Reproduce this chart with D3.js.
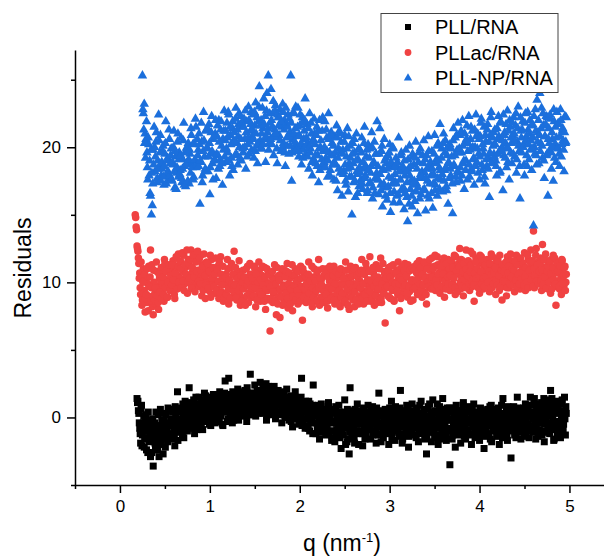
<!DOCTYPE html>
<html><head><meta charset="utf-8">
<script src="https://cdn.jsdelivr.net/npm/d3@7"></script>
<style>body{margin:0;background:#fff}svg{display:block}text{font-family:Arial,"Liberation Sans",sans-serif;fill:#000}</style>
</head><body><svg id="c" width="604" height="558"></svg>
<script>
const seriesNames = ["PLL/RNA","PLLac/RNA","PLL-NP/RNA"];
const seriesColors = ["#000000","#F04242","#1B6FDC"];
const q = [
0.17,0.18,0.19,0.20,0.21,0.22,0.23,0.24,0.25,0.26,
0.27,0.28,0.29,0.30,0.31,0.32,0.33,0.34,0.35,0.36,
0.37,0.38,0.39,0.40,0.41,0.42,0.43,0.44,0.45,0.46,
0.47,0.48,0.49,0.50,0.51,0.52,0.53,0.54,0.55,0.56,
0.57,0.58,0.59,0.60,0.61,0.62,0.63,0.64,0.65,0.66,
0.67,0.68,0.69,0.70,0.71,0.72,0.73,0.74,0.75,0.76,
0.77,0.78,0.79,0.80,0.81,0.82,0.83,0.84,0.85,0.86,
0.87,0.88,0.89,0.90,0.91,0.92,0.93,0.94,0.95,0.96,
0.97,0.98,0.99,1.00,1.01,1.02,1.03,1.04,1.05,1.06,
1.07,1.08,1.09,1.10,1.11,1.12,1.13,1.14,1.15,1.16,
1.17,1.18,1.19,1.20,1.21,1.22,1.23,1.24,1.25,1.26,
1.27,1.28,1.29,1.30,1.31,1.32,1.33,1.34,1.35,1.36,
1.37,1.38,1.39,1.40,1.41,1.42,1.43,1.44,1.45,1.46,
1.47,1.48,1.49,1.50,1.51,1.52,1.53,1.54,1.55,1.56,
1.57,1.58,1.59,1.60,1.61,1.62,1.63,1.64,1.65,1.66,
1.67,1.68,1.69,1.70,1.71,1.72,1.73,1.74,1.75,1.76,
1.77,1.78,1.79,1.80,1.81,1.82,1.83,1.84,1.85,1.86,
1.87,1.88,1.89,1.90,1.91,1.92,1.93,1.94,1.95,1.96,
1.97,1.98,1.99,2.00,2.01,2.02,2.03,2.04,2.05,2.06,
2.07,2.08,2.09,2.10,2.11,2.12,2.13,2.14,2.15,2.16,
2.17,2.18,2.19,2.20,2.21,2.22,2.23,2.24,2.25,2.26,
2.27,2.28,2.29,2.30,2.31,2.32,2.33,2.34,2.35,2.36,
2.37,2.38,2.39,2.40,2.41,2.42,2.43,2.44,2.45,2.46,
2.47,2.48,2.49,2.50,2.51,2.52,2.53,2.54,2.55,2.56,
2.57,2.58,2.59,2.60,2.61,2.62,2.63,2.64,2.65,2.66,
2.67,2.68,2.69,2.70,2.71,2.72,2.73,2.74,2.75,2.76,
2.77,2.78,2.79,2.80,2.81,2.82,2.83,2.84,2.85,2.86,
2.87,2.88,2.89,2.90,2.91,2.92,2.93,2.94,2.95,2.96,
2.97,2.98,2.99,3.00,3.01,3.02,3.03,3.04,3.05,3.06,
3.07,3.08,3.09,3.10,3.11,3.12,3.13,3.14,3.15,3.16,
3.17,3.18,3.19,3.20,3.21,3.22,3.23,3.24,3.25,3.26,
3.27,3.28,3.29,3.30,3.31,3.32,3.33,3.34,3.35,3.36,
3.37,3.38,3.39,3.40,3.41,3.42,3.43,3.44,3.45,3.46,
3.47,3.48,3.49,3.50,3.51,3.52,3.53,3.54,3.55,3.56,
3.57,3.58,3.59,3.60,3.61,3.62,3.63,3.64,3.65,3.66,
3.67,3.68,3.69,3.70,3.71,3.72,3.73,3.74,3.75,3.76,
3.77,3.78,3.79,3.80,3.81,3.82,3.83,3.84,3.85,3.86,
3.87,3.88,3.89,3.90,3.91,3.92,3.93,3.94,3.95,3.96,
3.97,3.98,3.99,4.00,4.01,4.02,4.03,4.04,4.05,4.06,
4.07,4.08,4.09,4.10,4.11,4.12,4.13,4.14,4.15,4.16,
4.17,4.18,4.19,4.20,4.21,4.22,4.23,4.24,4.25,4.26,
4.27,4.28,4.29,4.30,4.31,4.32,4.33,4.34,4.35,4.36,
4.37,4.38,4.39,4.40,4.41,4.42,4.43,4.44,4.45,4.46,
4.47,4.48,4.49,4.50,4.51,4.52,4.53,4.54,4.55,4.56,
4.57,4.58,4.59,4.60,4.61,4.62,4.63,4.64,4.65,4.66,
4.67,4.68,4.69,4.70,4.71,4.72,4.73,4.74,4.75,4.76,
4.77,4.78,4.79,4.80,4.81,4.82,4.83,4.84,4.85,4.86,
4.87,4.88,4.89,4.90,4.91,4.92,4.93,4.94,4.95,4.96];
const qMid = [
0.175,0.185,0.195,0.205,0.215,0.225,0.235,0.245,0.255,0.265,
0.275,0.285,0.295,0.305,0.315,0.325,0.335,0.345,0.355,0.365,
0.375,0.385,0.395,0.405,0.415,0.425,0.435,0.445,0.455,0.465,
0.475,0.485,0.495,0.505,0.515,0.525,0.535,0.545,0.555,0.565,
0.575,0.585,0.595,0.605,0.615,0.625,0.635,0.645,0.655,0.665,
0.675,0.685,0.695,0.705,0.715,0.725,0.735,0.745,0.755,0.765,
0.775,0.785,0.795,0.805,0.815,0.825,0.835,0.845,0.855,0.865,
0.875,0.885,0.895,0.905,0.915,0.925,0.935,0.945,0.955,0.965,
0.975,0.985,0.995,1.005,1.015,1.025,1.035,1.045,1.055,1.065,
1.075,1.085,1.095,1.105,1.115,1.125,1.135,1.145,1.155,1.165,
1.175,1.185,1.195,1.205,1.215,1.225,1.235,1.245,1.255,1.265,
1.275,1.285,1.295,1.305,1.315,1.325,1.335,1.345,1.355,1.365,
1.375,1.385,1.395,1.405,1.415,1.425,1.435,1.445,1.455,1.465,
1.475,1.485,1.495,1.505,1.515,1.525,1.535,1.545,1.555,1.565,
1.575,1.585,1.595,1.605,1.615,1.625,1.635,1.645,1.655,1.665,
1.675,1.685,1.695,1.705,1.715,1.725,1.735,1.745,1.755,1.765,
1.775,1.785,1.795,1.805,1.815,1.825,1.835,1.845,1.855,1.865,
1.875,1.885,1.895,1.905,1.915,1.925,1.935,1.945,1.955,1.965,
1.975,1.985,1.995,2.005,2.015,2.025,2.035,2.045,2.055,2.065,
2.075,2.085,2.095,2.105,2.115,2.125,2.135,2.145,2.155,2.165,
2.175,2.185,2.195,2.205,2.215,2.225,2.235,2.245,2.255,2.265,
2.275,2.285,2.295,2.305,2.315,2.325,2.335,2.345,2.355,2.365,
2.375,2.385,2.395,2.405,2.415,2.425,2.435,2.445,2.455,2.465,
2.475,2.485,2.495,2.505,2.515,2.525,2.535,2.545,2.555,2.565,
2.575,2.585,2.595,2.605,2.615,2.625,2.635,2.645,2.655,2.665,
2.675,2.685,2.695,2.705,2.715,2.725,2.735,2.745,2.755,2.765,
2.775,2.785,2.795,2.805,2.815,2.825,2.835,2.845,2.855,2.865,
2.875,2.885,2.895,2.905,2.915,2.925,2.935,2.945,2.955,2.965,
2.975,2.985,2.995,3.005,3.015,3.025,3.035,3.045,3.055,3.065,
3.075,3.085,3.095,3.105,3.115,3.125,3.135,3.145,3.155,3.165,
3.175,3.185,3.195,3.205,3.215,3.225,3.235,3.245,3.255,3.265,
3.275,3.285,3.295,3.305,3.315,3.325,3.335,3.345,3.355,3.365,
3.375,3.385,3.395,3.405,3.415,3.425,3.435,3.445,3.455,3.465,
3.475,3.485,3.495,3.505,3.515,3.525,3.535,3.545,3.555,3.565,
3.575,3.585,3.595,3.605,3.615,3.625,3.635,3.645,3.655,3.665,
3.675,3.685,3.695,3.705,3.715,3.725,3.735,3.745,3.755,3.765,
3.775,3.785,3.795,3.805,3.815,3.825,3.835,3.845,3.855,3.865,
3.875,3.885,3.895,3.905,3.915,3.925,3.935,3.945,3.955,3.965,
3.975,3.985,3.995,4.005,4.015,4.025,4.035,4.045,4.055,4.065,
4.075,4.085,4.095,4.105,4.115,4.125,4.135,4.145,4.155,4.165,
4.175,4.185,4.195,4.205,4.215,4.225,4.235,4.245,4.255,4.265,
4.275,4.285,4.295,4.305,4.315,4.325,4.335,4.345,4.355,4.365,
4.375,4.385,4.395,4.405,4.415,4.425,4.435,4.445,4.455,4.465,
4.475,4.485,4.495,4.505,4.515,4.525,4.535,4.545,4.555,4.565,
4.575,4.585,4.595,4.605,4.615,4.625,4.635,4.645,4.655,4.665,
4.675,4.685,4.695,4.705,4.715,4.725,4.735,4.745,4.755,4.765,
4.775,4.785,4.795,4.805,4.815,4.825,4.835,4.845,4.855,4.865,
4.875,4.885,4.895,4.905,4.915,4.925,4.935,4.945,4.955,4.965];
const pllRNA = [
null,null,1.4,1.2,0.3,-0.8,-1.9,0.9,-1.3,-0.4,
-2.2,-0.9,0.2,-1.6,-2.6,-0.5,-1.1,-2.9,-0.2,-1.4,
-3.6,-0.8,-1.9,0.4,-1.2,-2.4,-0.6,-1.5,0.6,-2.0,
-0.9,-2.7,-0.3,-1.4,0.2,-1.0,-1.8,-0.5,0.5,-1.3,
-0.2,-1.6,0.6,-0.8,-2.1,0.1,-0.6,1.9,-1.1,-0.3,
0.4,-0.9,-0.1,1.0,-1.5,0.3,-0.4,0.8,-1.0,0.2,
2.2,-0.3,0.9,-0.8,0.5,1.3,-1.2,0.1,0.7,-0.5,
0.3,1.5,-0.4,0.8,1.1,-0.9,0.6,1.8,0.0,0.4,
1.0,-0.2,0.7,1.4,-0.6,0.9,0.2,1.7,0.5,-0.4,
0.8,1.3,-0.3,0.6,1.9,0.1,1.0,-0.5,0.7,1.5,
2.7,0.4,1.2,-0.1,2.9,0.9,0.3,1.6,-0.4,1.1,
0.6,1.8,0.2,1.3,2.1,-0.2,1.0,0.5,1.7,0.8,
1.4,0.3,2.0,0.9,-0.3,1.6,0.7,1.2,3.2,0.5,
1.8,0.6,1.3,2.4,0.1,1.0,1.9,0.4,1.5,2.6,
0.7,1.6,2.2,0.3,1.2,1.8,-0.2,1.0,2.3,0.8,
1.5,0.2,2.1,1.1,0.6,1.7,-0.1,1.3,0.9,2.0,
0.4,1.4,0.9,-0.4,1.8,0.6,1.1,0.0,1.5,0.7,
1.2,-0.2,0.8,1.6,0.3,-0.7,1.0,0.5,1.9,0.1,
0.6,1.3,-0.5,0.9,0.2,2.9,-0.3,1.1,0.4,-0.8,
0.8,-0.6,0.3,1.2,-1.0,0.5,-0.2,0.9,2.4,-0.4,
0.2,-1.2,0.7,-0.5,0.4,-1.6,0.0,1.0,-0.8,0.3,
-0.6,0.5,-1.3,0.1,-0.3,1.1,-1.0,-0.2,0.6,-1.5,
-0.4,0.3,-1.8,0.8,-0.9,-0.1,-1.4,0.4,-0.7,-2.3,
-1.1,0.2,-0.5,1.3,-2.0,-0.3,0.6,-1.6,-2.7,2.2,
-0.2,-1.3,0.5,-0.8,-1.9,0.1,-0.5,1.0,-1.2,-0.4,
0.3,-1.0,-0.3,-2.1,0.7,-0.6,0.2,-1.4,-0.1,0.9,
-0.8,0.4,-1.6,-0.2,0.8,-1.1,-0.5,0.3,-1.9,0.0,
-0.4,1.8,-1.2,0.5,-0.7,0.1,-1.5,-0.2,0.6,-1.0,
0.2,-0.6,-2.0,0.7,-0.3,1.2,-1.1,-0.5,0.4,-1.7,
-0.2,0.6,-0.9,0.1,-1.4,2.0,-0.4,-1.9,0.3,-0.7,
-1.2,0.0,0.9,-0.6,-2.2,0.4,-0.3,-1.0,1.0,-0.5,
0.2,-1.3,-0.1,0.7,-0.8,-1.8,0.3,-0.4,1.2,-1.0,
-0.5,0.5,-1.6,0.1,-2.7,-0.3,0.8,-1.1,-0.2,0.4,
-0.9,1.3,-0.4,-1.5,0.3,-0.7,1.0,-2.0,0.0,-0.5,
0.5,-1.2,1.4,-0.3,-0.8,0.2,-1.7,0.7,-0.1,-1.0,
-3.5,-0.2,0.6,-1.3,-0.6,0.3,-2.2,0.9,-0.4,-1.1,
0.1,-0.7,-1.9,0.5,-0.2,1.1,-1.4,-0.5,0.4,-0.9,
-0.3,0.8,-1.2,-0.1,-2.0,0.6,-0.6,0.2,-1.5,0.3,
-0.8,0.4,-0.3,-1.7,0.7,-1.0,0.1,-0.5,-2.3,0.5,
-0.1,-1.2,0.6,-0.6,0.2,-1.6,0.9,-0.3,-1.0,0.3,
-0.7,0.4,-1.4,-0.2,0.7,-2.0,-0.4,0.1,-0.9,1.4,
0.3,-1.1,-0.3,0.6,-1.7,-0.6,0.2,-0.9,-3.0,0.5,
-0.4,0.8,-1.3,0.0,-0.7,1.5,-1.0,0.3,-0.2,-1.6,
0.2,-0.5,0.7,-1.2,1.0,-0.3,-0.8,0.5,-1.5,0.1,
-0.6,0.9,-0.1,-1.1,1.4,0.3,-0.7,0.6,-1.4,0.0,
0.7,-0.4,1.1,-1.0,0.2,-1.8,0.8,-0.2,1.3,-0.6,
0.4,-1.2,2.0,0.1,-0.5,0.9,-1.6,0.3,1.2,-0.8,
0.6,-0.3,1.0,-1.5,0.2,1.3,-0.9,0.5,-0.1,0.8];
const pllRNAMid = [
null,null,1.1,0.5,-0.4,-1.2,0.6,-2.1,-0.7,0.1,
-1.5,-0.3,-2.4,-1.0,0.4,-1.8,-0.6,-1.3,-2.6,-0.1,
-1.7,-0.4,-2.2,-0.9,-1.4,0.2,-2.9,-0.7,-1.1,-0.2,
-1.6,0.3,-0.8,-2.2,-0.4,-1.1,0.7,-1.5,-0.6,-0.1,
-1.2,0.4,-0.5,-1.4,0.8,-0.9,-0.2,-1.7,0.5,-0.7,
-0.3,0.7,-1.2,0.1,-0.6,1.2,-0.2,-0.9,0.5,-0.4,
0.6,-0.7,1.1,0.2,-0.4,0.9,-0.1,1.5,-0.9,0.4,
1.0,-0.1,0.5,-0.6,1.3,0.2,-0.3,0.9,1.6,-0.2,
0.3,1.2,-0.5,0.8,0.1,1.5,-0.1,0.6,1.1,0.0,
1.1,0.2,1.6,-0.2,0.9,0.4,1.3,-0.6,0.5,1.8,
0.5,1.4,-0.3,0.8,1.7,0.2,1.1,0.6,1.9,-0.2,
1.2,0.4,1.5,0.9,-0.1,1.9,0.6,1.1,0.2,1.4,
0.8,1.7,0.1,1.3,2.2,0.5,1.0,1.8,0.2,1.2,
1.4,0.2,1.1,1.7,0.7,2.0,0.3,1.2,0.8,1.6,
1.3,2.0,0.5,1.5,0.9,2.5,0.2,1.4,0.6,1.9,
0.9,1.8,0.4,1.2,2.3,0.7,1.5,0.3,1.0,1.6,
1.2,0.2,1.6,0.8,0.4,1.9,0.1,1.0,2.1,0.5,
0.9,0.3,1.4,-0.3,0.7,1.1,0.2,1.5,-0.1,0.6,
0.2,1.0,-0.2,0.7,1.5,-0.6,0.4,0.9,-0.1,1.2,
-0.1,0.6,-0.8,0.3,1.0,-0.3,0.7,-1.2,0.1,0.5,
-0.4,0.5,-0.9,0.9,-0.2,0.3,-1.1,0.6,-0.5,0.0,
0.3,-0.9,0.0,-0.6,0.8,-1.2,0.2,-0.4,-1.7,0.4,
-1.0,0.5,-0.3,-1.2,0.2,-0.6,0.9,-1.5,-0.2,0.1,
-0.4,-1.3,0.4,-0.8,-0.1,-1.8,0.3,-0.6,-1.1,0.0,
-0.9,0.3,-0.6,-1.5,0.6,-0.2,-1.0,0.2,-2.0,-0.3,
-0.5,0.5,-1.2,0.1,-0.8,-1.6,0.4,-0.3,-0.9,0.2,
0.1,-0.9,0.6,-0.5,-1.3,0.3,-0.2,-1.0,0.7,-0.6,
-1.3,0.2,-0.5,-1.8,0.4,-0.9,0.0,-0.3,-1.2,0.5,
-0.7,0.3,-1.1,-0.2,0.6,-1.5,0.1,-0.8,-0.1,0.8,
-1.0,0.2,-0.5,-1.2,0.7,-0.3,0.4,-1.6,-0.1,0.5,
0.3,-0.8,-0.2,0.6,-1.4,-0.5,0.2,-1.1,-0.3,0.5,
-0.6,0.1,-1.5,0.4,-0.2,-0.9,0.9,-1.2,0.0,-0.7,
0.3,-1.0,-0.3,0.6,-1.4,0.0,-0.6,1.0,-0.9,-1.8,
0.2,-0.6,-1.1,0.5,-0.2,-1.3,0.4,-0.8,0.8,-1.6,
-0.4,0.1,-1.0,0.6,-0.5,-1.4,0.3,-0.2,-0.9,0.7,
-0.8,0.4,-1.6,-0.1,0.7,-1.0,-0.3,0.2,-1.3,0.5,
-0.5,0.3,-1.1,-0.4,0.9,-0.8,0.0,-1.6,0.4,-0.2,
-1.0,0.5,-0.4,-1.3,0.2,-0.7,1.0,-0.2,-1.1,0.1,
0.3,-0.6,-1.2,0.6,-0.1,-0.9,0.4,-1.4,0.0,-0.4,
-0.9,0.4,-0.2,-1.3,0.8,-0.5,-1.8,0.2,-0.4,0.6,
0.1,-1.0,0.5,-0.6,-1.2,0.3,-0.3,0.9,-1.5,-0.1,
-0.8,0.2,-0.4,-1.4,0.8,-0.2,-1.0,0.4,-0.5,0.1,
0.5,-0.9,0.2,-1.5,-0.3,0.7,-0.6,-1.1,0.4,-0.1,
-0.9,0.6,-0.3,0.1,-1.4,0.9,-0.5,0.3,-1.0,1.5,
0.4,-1.0,0.2,1.1,-0.4,-1.6,0.7,-0.2,1.0,-0.9,
-0.2,0.5,-1.3,0.3,1.4,-0.5,0.0,-1.1,0.6,1.2,
-0.4,0.8,-0.9,1.4,0.0,-1.7,0.6,-0.3,1.0,-1.2,
0.9,-0.6,0.4,-1.1,1.2,0.0,-0.5,1.5,-1.3,0.3];
const pllacRNA = [
15.0,14.1,12.7,12.3,11.4,10.7,9.1,10.4,8.7,11.0,
9.4,7.8,10.2,8.5,9.9,11.2,8.9,12.4,9.6,8.2,
7.6,10.0,9.2,8.4,10.8,9.5,8.0,10.3,9.8,11.1,
9.3,10.6,8.6,11.4,9.9,10.2,8.9,11.0,9.6,10.7,
10.9,9.4,11.6,10.1,8.8,11.2,9.8,10.5,12.1,9.6,
10.3,11.5,9.7,10.8,12.0,9.9,11.1,10.4,9.2,11.7,
11.3,10.0,12.4,10.7,9.5,11.8,10.2,12.2,9.8,10.9,
11.6,9.7,10.5,12.0,9.0,11.0,10.3,11.4,8.8,10.8,
10.1,11.3,9.4,10.6,8.9,11.7,9.9,10.4,11.0,9.2,
10.7,9.5,11.2,8.8,10.0,11.9,9.3,10.5,8.6,10.2,
9.0,10.6,9.8,11.0,8.4,10.1,9.5,11.4,8.9,9.7,
12.3,9.2,10.4,8.7,9.9,10.8,9.1,8.3,10.2,9.6,
10.9,8.8,9.7,10.3,9.0,11.2,8.5,9.9,10.6,9.3,
8.9,10.1,9.5,11.0,8.2,9.8,10.4,9.1,10.9,8.6,
9.7,10.5,8.9,9.3,11.1,8.0,10.0,9.4,10.7,8.7,
6.4,9.9,10.4,8.5,9.2,11.3,9.6,7.6,10.1,8.9,
9.4,7.4,10.6,9.0,8.3,9.8,10.9,8.7,9.5,11.4,
8.1,9.7,10.3,8.8,9.2,7.9,10.5,9.0,11.0,8.6,
9.9,8.4,10.2,9.3,11.2,8.8,7.2,9.6,10.7,9.1,
8.5,10.0,9.4,11.5,8.9,9.7,10.4,8.2,9.8,11.0,
9.2,8.6,10.6,9.5,11.7,8.3,9.9,10.2,8.8,9.4,
10.5,8.9,9.6,11.0,8.1,9.3,10.1,8.7,9.8,10.8,
9.0,11.2,8.4,9.7,10.3,8.8,9.5,10.9,8.2,9.9,
10.6,9.1,8.5,10.0,11.5,8.9,9.4,10.4,8.0,9.7,
9.3,10.8,8.7,9.9,8.2,11.1,9.6,8.5,10.3,9.0,
10.1,8.8,11.7,9.4,8.4,10.6,9.2,11.0,8.9,9.8,
9.5,11.9,8.6,10.2,9.1,10.7,8.3,9.9,11.3,9.4,
10.4,8.9,9.7,11.8,8.5,10.0,9.3,10.8,7.0,9.6,
10.2,9.0,11.1,9.7,8.8,10.5,9.4,11.3,8.6,10.0,
9.5,10.9,9.1,10.3,7.9,11.0,9.8,10.6,9.2,10.1,
11.4,9.6,10.4,8.9,10.8,9.3,11.1,9.9,10.2,8.7,
10.0,11.2,9.5,10.7,9.1,10.3,11.6,9.8,10.5,8.9,
10.6,9.3,11.0,9.9,8.4,10.4,11.3,9.6,10.9,10.1,
11.8,9.7,10.5,11.2,9.4,10.0,11.9,9.9,10.7,9.2,
10.3,11.5,9.6,10.9,8.9,11.1,10.2,9.8,11.7,10.6,
9.4,10.8,11.4,9.9,10.3,12.0,9.1,10.6,11.2,9.7,
10.9,12.5,9.5,10.4,11.6,9.0,10.7,11.1,12.4,9.8,
10.2,11.3,9.4,12.3,10.6,9.7,11.0,8.6,10.5,11.8,
9.9,10.7,11.4,9.2,10.3,11.9,10.0,9.5,11.2,10.8,
11.5,9.8,10.4,11.1,9.3,10.9,12.1,9.6,10.2,11.3,
10.6,9.1,11.7,10.0,10.8,9.4,11.2,10.3,8.7,11.0,
9.7,11.4,10.5,9.0,11.9,10.2,9.6,10.9,11.6,9.9,
10.4,11.1,9.3,10.7,12.0,9.8,10.3,11.5,9.5,10.8,
11.3,9.9,10.6,12.2,9.4,11.0,10.1,11.7,9.7,10.5,
12.4,10.0,11.2,13.8,9.6,10.9,12.5,10.3,11.5,9.9,
10.6,11.8,9.4,12.8,10.2,11.1,9.8,10.7,11.6,9.5,
11.0,10.3,9.2,11.7,10.5,12.0,9.7,10.8,8.3,11.3,
10.1,11.5,9.5,10.9,9.1,11.6,10.4,9.8,11.2,10.0];
const pllacRNAMid = [
14.8,13.9,12.5,11.8,10.3,9.6,11.5,8.3,10.0,9.2,
10.6,8.8,9.1,11.0,7.9,9.7,10.4,8.6,11.3,9.0,
10.9,8.7,9.6,11.5,9.0,8.5,10.6,9.3,10.1,8.8,
10.4,9.1,11.7,9.6,10.8,8.9,10.0,11.3,9.4,10.5,
9.8,11.3,10.2,9.1,10.7,11.9,9.5,11.1,10.0,11.6,
11.0,9.6,12.2,10.1,9.4,11.3,10.6,12.4,10.0,11.4,
10.3,11.7,9.6,11.1,12.0,10.4,9.3,11.5,10.8,12.3,
10.1,11.8,9.9,10.9,11.2,9.4,12.1,10.5,9.8,11.5,
11.4,9.6,10.8,12.0,9.1,10.3,11.1,9.7,10.6,11.8,
9.4,10.9,10.1,11.5,9.2,10.6,9.8,11.2,10.3,8.9,
10.4,9.1,11.7,9.5,10.2,8.8,11.1,9.9,10.6,9.3,
9.8,11.1,8.9,10.3,9.4,11.6,9.7,10.5,8.6,10.0,
9.5,10.4,8.3,11.0,9.8,10.1,9.2,11.4,9.6,8.9,
10.3,9.0,11.2,9.6,10.6,8.7,10.0,11.5,9.3,10.2,
9.1,11.2,9.8,8.6,10.4,9.5,11.0,8.8,9.9,10.6,
9.7,8.8,10.8,9.3,10.2,8.6,9.9,11.1,8.4,10.5,
10.2,9.5,8.9,11.0,9.7,8.5,10.4,9.2,10.8,8.8,
9.9,10.7,8.4,9.5,11.3,9.0,9.8,10.5,8.7,10.1,
9.4,10.8,9.0,8.6,10.3,9.7,11.0,8.9,9.5,10.4,
9.9,8.7,10.6,9.2,10.1,8.5,11.2,9.6,8.9,10.3,
10.1,9.4,8.7,10.9,9.6,10.3,8.9,9.8,11.0,8.5,
9.3,10.7,9.1,8.6,10.4,9.7,11.2,8.8,9.5,10.1,
10.5,8.7,9.9,10.8,9.2,8.4,10.6,9.4,11.0,8.9,
9.2,10.3,9.8,8.6,10.9,9.5,8.3,10.2,9.9,11.2,
10.4,8.9,9.6,11.0,9.3,8.7,10.5,9.8,8.4,10.7,
9.6,10.9,8.8,9.9,10.6,9.1,11.4,8.6,10.2,9.4,
10.8,9.3,10.1,8.7,11.1,9.7,10.4,9.0,10.0,8.5,
9.5,11.0,10.2,8.8,9.9,11.4,9.2,10.6,9.6,10.3,
9.7,10.9,8.9,10.4,11.2,9.5,10.0,8.7,10.7,9.9,
10.7,9.4,11.5,9.9,10.4,8.8,10.2,11.2,9.6,10.9,
9.8,10.5,9.2,11.3,9.7,10.9,8.6,10.1,11.0,9.5,
10.9,9.6,10.2,11.4,9.2,10.8,9.9,11.1,9.4,10.6,
9.8,11.5,10.3,9.1,11.0,10.0,9.7,11.7,10.4,9.5,
10.4,11.0,9.6,12.0,10.2,9.8,11.3,10.6,9.4,11.1,
11.2,9.7,10.6,11.8,10.1,9.5,11.4,10.4,9.9,11.0,
10.5,11.6,9.8,11.1,10.3,9.6,11.9,10.9,9.3,11.4,
11.2,10.0,11.7,9.7,10.8,11.4,10.2,9.6,11.0,10.5,
11.6,9.9,10.8,11.3,10.1,12.1,9.8,10.7,11.5,10.3,
11.0,9.6,10.5,12.0,10.8,9.9,11.6,10.3,9.7,11.3,
10.4,11.7,10.0,10.8,11.4,9.6,10.6,11.9,9.9,10.7,
11.1,10.2,9.8,11.6,10.5,12.0,9.7,10.9,11.3,10.1,
10.8,10.0,11.5,9.6,10.7,11.2,9.9,12.1,10.4,11.0,
9.8,10.9,11.6,10.2,9.7,11.3,10.6,9.9,11.8,10.3,
10.7,11.4,9.8,10.4,11.1,10.0,12.0,9.6,10.9,11.5,
10.2,11.6,9.7,11.0,10.5,12.0,10.1,11.3,9.9,10.8,
11.4,10.1,10.9,9.8,11.7,10.4,12.1,9.6,10.8,11.2,
10.0,11.5,10.6,9.5,11.1,10.2,11.8,9.9,10.7,11.4,
10.8,9.7,11.2,10.3,11.7,9.9,10.5,11.1,9.4,10.6];
const pllnpRNA = [
null,null,null,null,null,null,null,null,25.3,22.5,
23.2,21.0,20.6,19.6,17.6,20.2,19.0,16.4,15.0,15.7,
19.8,21.5,18.2,20.4,17.4,19.0,22.4,18.6,20.9,17.9,
18.4,20.1,17.2,19.5,21.9,18.0,19.2,17.6,20.6,18.8,
19.9,17.5,18.7,21.2,17.0,19.3,18.1,20.4,17.8,19.6,
18.3,20.7,17.4,19.1,21.8,18.6,17.1,19.9,18.9,20.3,
17.3,19.5,21.4,18.8,20.2,17.8,19.0,22.1,18.5,20.6,
19.8,21.0,15.8,18.9,20.4,17.9,22.6,19.3,18.4,21.3,
20.0,18.2,21.7,16.5,19.5,22.3,18.8,20.6,19.1,21.0,
17.7,20.8,19.4,22.0,18.6,21.3,20.1,17.2,19.8,22.7,
20.5,18.9,21.8,19.6,22.4,17.9,20.9,19.2,21.4,18.3,
21.1,19.4,22.9,20.3,18.7,21.7,20.0,22.3,19.0,21.5,
19.6,22.1,20.6,18.4,21.9,20.2,23.0,19.5,21.2,22.6,
20.8,22.4,19.2,21.6,23.3,20.1,18.8,21.9,24.5,20.5,
22.0,19.9,21.4,23.6,20.6,18.9,22.7,21.1,25.3,20.3,
21.8,24.3,20.2,22.5,19.4,21.3,23.1,20.7,18.8,22.2,
20.9,22.8,19.7,21.5,23.2,20.3,22.0,18.6,21.7,20.1,
22.4,19.5,21.1,25.3,17.5,20.6,22.6,19.9,21.4,20.2,
20.8,22.9,19.3,21.6,20.0,18.7,22.2,19.8,21.2,23.6,
19.5,21.7,20.3,18.4,22.5,19.9,21.0,17.9,20.6,22.1,
20.2,18.8,21.5,19.4,17.4,22.0,20.0,18.5,21.2,19.7,
18.9,21.9,19.2,20.7,17.8,22.5,19.6,18.3,21.1,20.3,
19.4,17.6,20.8,18.7,21.6,16.8,19.9,21.2,18.1,20.4,
16.4,19.8,18.2,20.9,17.5,19.3,21.4,16.7,18.8,20.1,
18.5,15.0,20.3,17.4,19.6,16.3,21.0,18.0,19.1,17.1,
19.8,17.6,20.7,16.9,18.4,21.5,17.9,19.3,16.6,20.2,
17.3,19.9,18.1,21.1,16.2,18.8,20.4,17.7,19.5,21.9,
18.6,16.5,21.4,17.2,19.7,15.6,18.3,20.6,17.0,19.2,
16.1,19.4,17.8,20.2,15.2,18.6,17.3,19.9,16.7,18.0,
19.2,16.4,18.5,20.7,15.9,17.6,19.6,16.8,18.2,15.4,
17.9,19.8,16.3,14.5,18.4,20.1,16.9,17.5,15.6,19.3,
18.7,16.0,20.4,17.3,15.1,18.9,17.7,19.9,16.5,18.2,
16.8,20.5,18.1,15.3,19.4,17.5,20.8,16.2,18.6,17.9,
19.7,15.5,18.0,20.9,17.2,19.1,16.4,20.3,18.5,21.7,
17.6,19.9,16.7,21.0,18.3,20.5,17.1,19.4,15.8,18.8,
20.2,17.9,19.3,15.1,21.4,18.6,20.7,17.4,19.8,21.8,
18.1,20.9,17.5,19.6,22.0,18.8,16.9,20.3,19.0,21.6,
19.7,22.3,17.8,20.6,18.4,21.2,19.1,17.2,20.0,22.4,
18.9,21.0,19.5,17.6,20.8,22.1,18.3,19.9,21.5,17.3,
20.4,18.6,21.7,19.2,16.3,20.9,22.6,18.9,20.1,19.5,
21.3,19.0,17.9,20.6,22.3,19.7,18.2,21.8,20.0,16.8,
19.4,21.1,20.3,18.5,22.7,19.9,17.6,21.5,20.7,18.8,
20.9,22.2,19.3,21.6,18.1,20.4,23.0,19.7,16.2,21.2,
19.6,21.9,20.2,17.9,22.5,20.8,18.6,21.3,19.1,22.0,
20.5,18.3,21.7,14.2,20.0,22.8,19.4,23.5,21.1,18.8,
24.0,20.3,22.9,19.2,21.6,17.7,20.8,22.3,19.5,16.4,
21.4,19.8,22.1,18.4,20.6,17.5,21.9,20.2,18.9,22.6,
20.0,21.7,18.6,22.8,19.3,21.2,20.5,18.2,22.3,20.4];
const pllnpRNAMid = [
null,null,null,null,null,null,null,null,22.8,21.3,
20.3,19.2,21.9,18.5,20.7,17.9,16.6,19.8,18.1,17.3,
18.7,20.0,19.3,21.1,17.7,18.4,20.5,19.6,17.5,18.9,
19.7,17.8,18.6,20.3,17.3,19.0,18.2,21.3,17.9,19.4,
17.6,18.9,20.0,18.2,19.7,16.9,18.5,21.0,19.1,18.0,
19.4,17.7,18.4,20.5,17.2,19.6,18.7,20.0,17.5,19.1,
19.8,18.1,20.9,18.5,17.6,20.3,19.1,21.5,18.7,19.4,
18.6,20.2,19.0,21.8,17.4,19.7,20.5,18.2,21.2,19.9,
21.4,19.3,20.3,18.5,21.1,19.7,17.6,20.8,19.0,22.0,
19.5,21.6,18.4,20.4,19.1,21.9,18.8,20.6,21.2,19.3,
21.2,19.9,20.7,22.6,19.0,21.5,20.2,18.6,21.9,20.5,
20.4,22.1,19.5,21.3,20.8,22.5,19.2,20.6,21.8,19.9,
21.5,20.0,22.7,21.1,19.3,20.7,22.0,20.4,21.7,19.8,
21.3,20.6,22.6,19.7,21.0,22.2,20.3,23.0,21.6,19.9,
21.0,22.9,20.2,21.7,22.3,20.8,24.0,21.4,19.8,22.5,
20.6,22.0,21.5,23.4,20.9,22.7,21.0,19.9,22.4,21.6,
22.2,20.5,21.9,20.0,22.6,21.3,19.6,22.9,20.7,21.5,
20.8,22.1,20.1,21.8,19.6,22.5,21.0,20.4,23.0,19.8,
21.5,19.7,20.9,22.4,20.3,21.8,19.2,20.6,22.0,20.1,
20.7,19.3,21.4,20.0,19.6,21.8,18.9,20.4,19.1,21.0,
19.4,20.9,18.6,21.2,19.9,18.3,20.5,19.1,22.2,18.8,
20.0,18.5,21.3,19.7,19.0,20.6,17.9,19.4,20.9,18.7,
20.1,18.9,19.6,17.5,20.7,19.2,18.4,21.0,19.7,18.2,
19.5,18.0,20.4,18.7,17.2,19.9,18.4,20.8,17.8,19.2,
17.8,19.5,18.8,20.6,17.5,19.0,18.2,16.6,19.9,18.5,
18.1,19.6,17.3,18.9,20.3,17.7,18.6,19.8,16.8,18.3,
19.2,17.4,18.6,20.0,17.0,18.9,16.6,19.5,18.1,17.6,
17.6,19.5,18.0,16.8,20.1,18.4,17.3,19.0,16.4,18.8,
18.4,17.1,19.6,16.6,18.9,17.7,20.0,15.9,18.5,17.4,
17.3,18.9,16.5,18.2,17.6,19.4,16.9,18.6,17.0,19.0,
16.6,18.2,17.4,19.1,15.8,17.9,18.6,16.4,19.5,17.2,
17.5,19.2,16.7,18.4,17.0,19.6,16.2,18.0,17.8,19.4,
18.8,16.9,19.1,17.7,18.4,16.4,19.7,17.3,18.9,16.6,
18.4,17.3,19.5,16.8,18.8,20.1,17.7,19.0,16.9,18.3,
19.2,18.0,20.3,17.5,19.6,18.5,16.8,20.0,18.9,17.7,
18.4,19.9,17.3,20.5,18.7,19.4,17.8,20.9,18.2,19.6,
19.9,18.5,21.2,17.9,20.1,19.0,21.0,18.3,20.6,17.6,
20.3,18.7,19.8,21.5,18.2,20.0,19.2,21.3,18.6,20.8,
19.9,18.1,20.6,19.3,21.8,18.7,20.2,19.5,17.8,20.9,
19.1,21.3,18.4,20.4,19.6,22.2,18.8,20.7,21.1,19.3,
20.2,18.6,21.4,19.5,20.8,18.1,21.9,19.8,20.5,22.4,
20.9,19.2,21.7,20.0,18.9,21.2,22.0,19.6,20.3,21.8,
19.5,21.0,20.4,22.5,19.1,21.4,20.1,18.6,22.2,20.7,
21.3,20.0,18.7,21.8,20.5,19.4,22.6,20.2,21.0,19.8,
21.6,19.9,20.7,22.3,19.5,21.2,18.7,20.4,22.0,20.9,
19.7,21.4,20.1,22.5,19.0,20.8,21.7,19.4,22.2,20.6,
20.3,22.4,19.6,21.1,20.0,22.8,19.2,21.5,20.7,19.9,
21.8,19.5,20.8,22.0,20.2,21.4,19.8,21.1,20.3,22.2];
const xTicks = [0,1,2,3,4,5];
const xMinorTicks = [-0.5,0.5,1.5,2.5,3.5,4.5,5.5];
const yTicks = [0,10,20];
const yMinorTicks = [-5,5,15,25];

const svg = d3.select("#c");
const x = d3.scaleLinear().domain([-0.5,5.5]).range([75,614.4]);
const y = d3.scaleLinear().domain([-5,27.2]).range([485,50]);

// points
const seriesData = [[pllRNA, pllRNAMid], [pllacRNA, pllacRNAMid], [pllnpRNA, pllnpRNAMid]];
const shapes = [d3.symbolSquare, d3.symbolCircle, d3.symbolTriangle];
const sizes = [49, 44, 40];
seriesData.forEach((pair, si) => {
  const pts = q.map((qq, i) => [qq, pair[0][i]])
    .concat(qMid.map((qq, i) => [qq, pair[1][i]]))
    .filter(d => d[1] !== null);
  svg.append("g").selectAll("path").data(pts).join("path")
    .attr("d", d3.symbol().type(shapes[si]).size(sizes[si]))
    .attr("transform", d => `translate(${x(d[0])},${y(d[1])})`)
    .attr("fill", seriesColors[si]);
});

// axes
svg.append("g").attr("transform","translate(0,485)")
  .call(d3.axisBottom(x).tickValues(xTicks).tickSize(8).tickSizeOuter(0).tickPadding(7).tickFormat(d3.format("d")));
const xMinor = svg.append("g").attr("transform","translate(0,485)")
  .call(d3.axisBottom(x).tickValues(xMinorTicks).tickSize(4).tickSizeOuter(0).tickFormat(""));
xMinor.select(".domain").remove();
svg.append("g").attr("transform","translate(75,0)")
  .call(d3.axisLeft(y).tickValues(yTicks).tickSize(8).tickSizeOuter(0).tickPadding(6).tickFormat(d3.format("d")));
const yMinor = svg.append("g").attr("transform","translate(75,0)")
  .call(d3.axisLeft(y).tickValues(yMinorTicks).tickSize(4).tickSizeOuter(0).tickFormat(""));
yMinor.select(".domain").remove();
svg.selectAll(".domain, .tick line").attr("stroke","#000").attr("stroke-width",1.5);
svg.selectAll(".tick text").attr("font-size",17).attr("font-family",'Arial,"Liberation Sans",sans-serif').attr("fill","#000");

// axis titles
const xt = svg.append("text").attr("x",342).attr("y",551).attr("text-anchor","middle").attr("font-size",23);
xt.append("tspan").text("q (nm");
xt.append("tspan").text("-1").attr("font-size",13).attr("dy",-9);
xt.append("tspan").text(")").attr("dy",9);
svg.append("text").attr("transform","translate(31,268) rotate(-90)").attr("text-anchor","middle").attr("font-size",23).text("Residuals");

// legend
const lg = svg.append("g");
lg.append("rect").attr("x",381).attr("y",13.5).attr("width",177).attr("height",79).attr("fill","#fff").attr("stroke","#444").attr("stroke-width",1);
const legSizes = [36, 36, 30];
seriesNames.forEach((nm, i) => {
  const cy = 27 + i*25.5;
  lg.append("path").attr("d", d3.symbol().type(shapes[i]).size(legSizes[i]))
    .attr("transform", `translate(408,${cy})`).attr("fill", seriesColors[i]);
  lg.append("text").attr("x",435).attr("y",cy+7).attr("font-size",20).text(nm);
});
</script></body></html>
